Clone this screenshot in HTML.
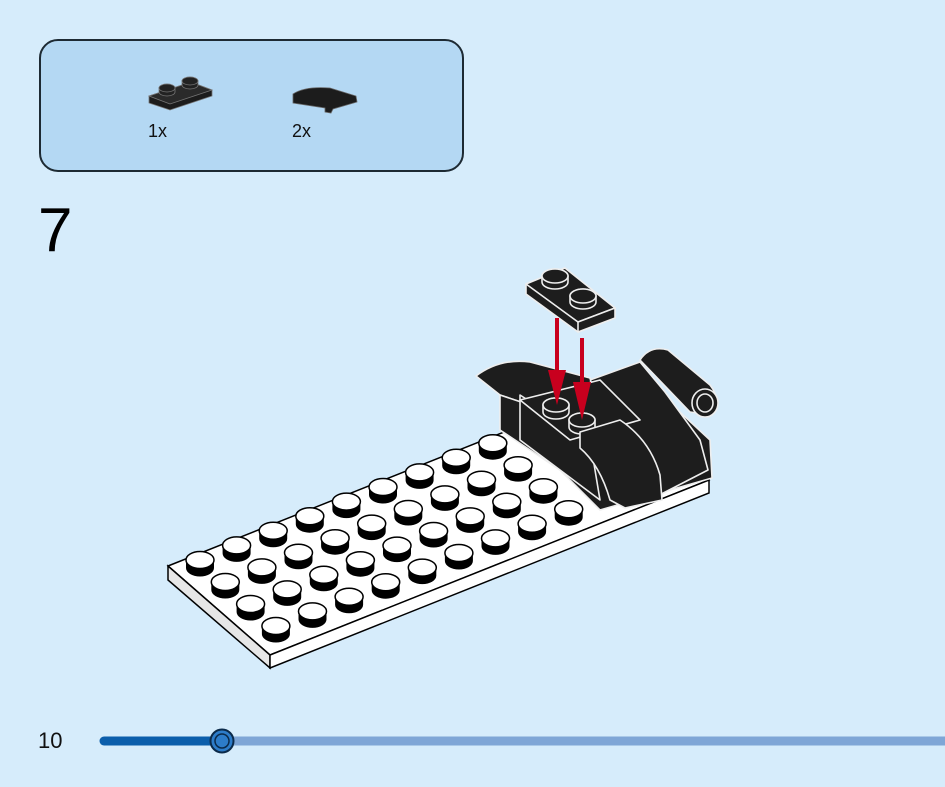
<!DOCTYPE html>
<html><head><meta charset="utf-8"><style>
html,body{margin:0;padding:0;}
body{width:945px;height:787px;background:#d6ecfb;position:relative;overflow:hidden;font-family:"Liberation Sans",sans-serif;}
</style></head><body>
<svg id="s" width="945" height="787" viewBox="0 0 945 787" xmlns="http://www.w3.org/2000/svg" style="position:absolute;left:0;top:0">
<rect x="40" y="40" width="423" height="131" rx="18" fill="#b4d8f3" stroke="#1d2a33" stroke-width="2"/>
<!-- part 1: 1x2 plate -->
<g stroke="#777" stroke-width="0.8">
<polygon points="149,96 191,82 212,90 212,96 170,110 149,103" fill="#1c1c1c"/>
<polygon points="149,96 191,82 212,90 170,104" fill="#2a2a2a"/>
<path d="M159,92 L159,88 A8,4 0 0 1 175,88 L175,92 A8,4 0 0 1 159,92 Z" fill="#222"/>
<ellipse cx="167" cy="88" rx="8" ry="4" fill="#222"/>
<path d="M182,85 L182,81 A8,4 0 0 1 198,81 L198,85 A8,4 0 0 1 182,85 Z" fill="#222"/>
<ellipse cx="190" cy="81" rx="8" ry="4" fill="#222"/>
</g>
<text x="148" y="137" font-size="18" fill="#111">1x</text>
<!-- part 2: curved slope -->
<path d="M293,94 Q305,86 330,88 L356,96 L357,102 L333,109 L331,113 L325,112 L325,108 L293,103 Z" fill="#1c1c1c" stroke="#666" stroke-width="0.8"/>
<text x="292" y="137" font-size="18" fill="#111">2x</text>
<text x="38" y="251" font-size="62" fill="#000">7</text>

<!-- base plate -->
<polygon points="168,566 607,391 709,480 270,655" fill="#fff" stroke="#000" stroke-width="1.5"/>
<polygon points="168,566 270,655 270,668 168,580" fill="#e6e6e6" stroke="#000" stroke-width="1.5"/>
<polygon points="270,655 709,480 709,493 270,668" fill="#fff" stroke="#000" stroke-width="1.5"/>
<g id="studs"></g>

<!-- black assembly -->
<g stroke="#eee" stroke-width="1.6" stroke-linejoin="round">
<polygon points="500,430 640,375 710,440 712,478 600,510 560,470" fill="#1d1d1d"/>
<polygon points="590,380 640,362 665,392 700,440 708,470 640,505 600,450" fill="#1d1d1d"/>
<path d="M640,360 Q650,345 668,350 L710,385 Q722,400 712,415 L690,412 Z" fill="#1d1d1d"/>
<ellipse cx="705" cy="403" rx="13" ry="14" fill="#1d1d1d"/>
<ellipse cx="705" cy="403" rx="8" ry="9" fill="#1d1d1d"/>
<path d="M476,376 Q500,358 530,362 L590,378 L595,398 L545,410 L500,395 Z" fill="#1d1d1d"/>
<polygon points="500,395 545,410 560,470 500,430" fill="#1d1d1d"/>
<polygon points="520,395 590,440 600,500 520,440" fill="#1d1d1d"/>
<polygon points="520,400 600,380 640,420 570,440" fill="#1d1d1d"/>
<path d="M543,412 L543,405 A13,7 0 0 1 569,405 L569,412 A13,7 0 0 1 543,412 Z" fill="#1d1d1d"/>
<ellipse cx="556" cy="405" rx="13" ry="7" fill="#1d1d1d"/>
<path d="M569,427 L569,420 A13,7 0 0 1 595,420 L595,427 A13,7 0 0 1 569,427 Z" fill="#1d1d1d"/>
<ellipse cx="582" cy="420" rx="13" ry="7" fill="#1d1d1d"/>
<path d="M580,432 L620,420 Q650,440 660,475 L662,500 L625,508 L610,500 Q600,465 580,448 Z" fill="#1d1d1d"/>
</g>
<!-- loose plate -->
<g stroke="#eee" stroke-width="1.6" stroke-linejoin="round">
<polygon points="526,284 565,268 615,308 615,318 578,332 526,294" fill="#1d1d1d"/>
<polygon points="526,284 565,268 615,308 578,322" fill="#1d1d1d"/>
<polygon points="578,322 615,308 615,318 578,332" fill="#1d1d1d"/>
<path d="M542,282 L542,276 A13,7 0 0 1 568,276 L568,282 A13,7 0 0 1 542,282 Z" fill="#1d1d1d"/>
<ellipse cx="555" cy="276" rx="13" ry="7" fill="#1d1d1d"/>
<path d="M570,302 L570,296 A13,7 0 0 1 596,296 L596,302 A13,7 0 0 1 570,302 Z" fill="#1d1d1d"/>
<ellipse cx="583" cy="296" rx="13" ry="7" fill="#1d1d1d"/>
</g>
<!-- arrows -->
<g fill="#c8001e">
<rect x="555" y="318" width="4" height="60"/>
<polygon points="548,370 566,370 557,405"/>
<rect x="580" y="338" width="4" height="50"/>
<polygon points="573,382 591,382 582,420"/>
</g>

<!-- progress bar -->
<line x1="104" y1="741" x2="222" y2="741" stroke="#0b5eab" stroke-width="9" stroke-linecap="round"/>
<line x1="222" y1="741" x2="945" y2="741" stroke="#7fa6d6" stroke-width="9"/>
<circle cx="222" cy="741" r="11.5" fill="#2d7cc9" stroke="#0b2a4a" stroke-width="2"/>
<circle cx="222" cy="741" r="7" fill="none" stroke="#0b2a4a" stroke-width="1.5"/>
<text x="38" y="748" font-size="22" fill="#111">10</text>
</svg>
<script>
var g=document.getElementById('studs'),h='';
for(var r=0;r<4;r++)for(var c=0;c<9;c++){
var x=200+c*36.6+r*25.3,y=560-c*14.6+r*22;
h+='<path d="M'+(x-14)+','+y+' L'+(x-14)+','+(y+8)+' A14,8.5 0 0 0 '+(x+14)+','+(y+8)+' L'+(x+14)+','+y+' Z" fill="#000"/>';
h+='<ellipse cx="'+x+'" cy="'+y+'" rx="14" ry="8.5" fill="#fff" stroke="#000" stroke-width="1.5"/>';
}
g.innerHTML=h;
</script>
</body></html>
